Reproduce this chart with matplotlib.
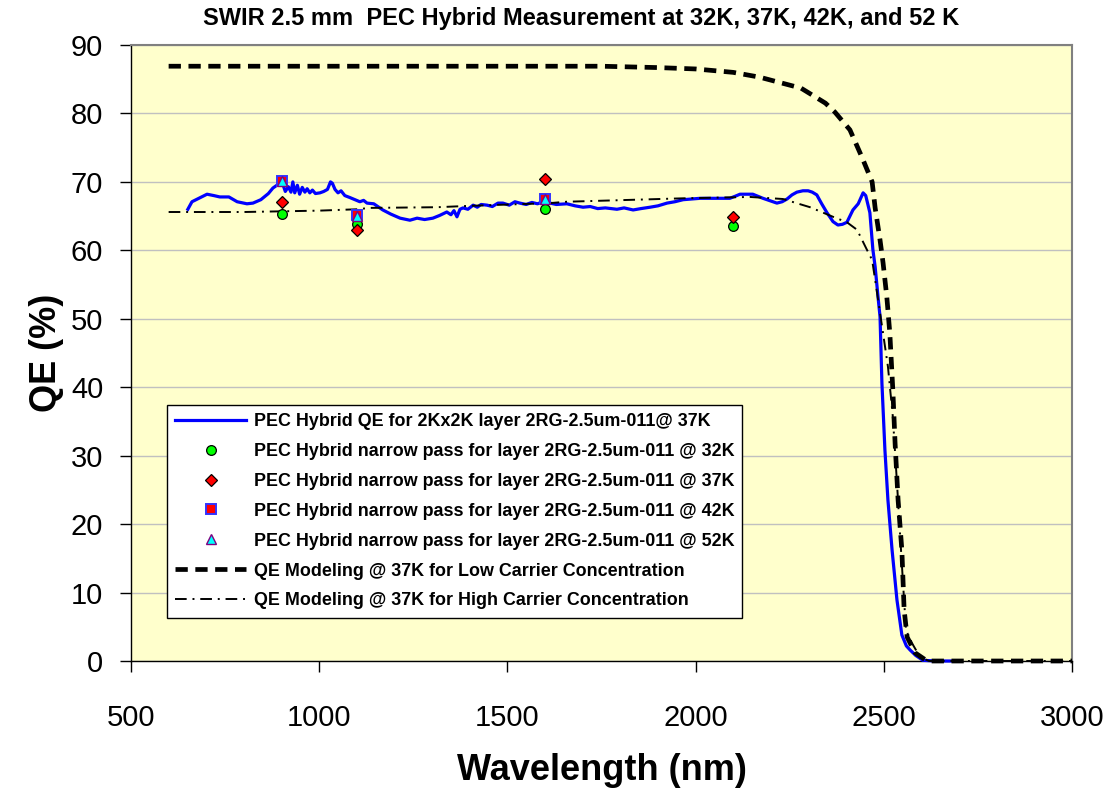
import numpy as np
import matplotlib
matplotlib.use("Agg")
import matplotlib.pyplot as plt

plt.rcParams['font.family'] = ['Liberation Sans', 'DejaVu Sans']

# measured QE curve, 2Kx2K hybrid @ 37K
blue_wl = [
    651, 662, 680, 702, 720, 736, 760, 782, 808, 824,
    845, 865, 877, 890, 898, 905, 910, 918, 925, 930,
    935, 942, 948, 955, 962, 968, 975, 982, 990, 1002,
    1012, 1022, 1030, 1035, 1042, 1050, 1058, 1068, 1082, 1095,
    1108, 1118, 1127, 1145, 1169, 1190, 1215, 1241, 1260, 1280,
    1302, 1320, 1339, 1350, 1358, 1366, 1374, 1382, 1395, 1409,
    1420, 1430, 1446, 1460, 1475, 1488, 1505, 1520, 1533, 1550,
    1565, 1580, 1594, 1613, 1630, 1658, 1680, 1701, 1720, 1740,
    1760, 1791, 1810, 1834, 1855, 1879, 1900, 1924, 1945, 1967,
    1990, 2012, 2050, 2091, 2105, 2118, 2152, 2179, 2200, 2216,
    2230, 2243, 2256, 2269, 2285, 2299, 2310, 2322, 2335, 2349,
    2365, 2378, 2390, 2402, 2418, 2432, 2445, 2452, 2463, 2471,
    2477, 2485, 2490, 2495, 2503, 2511, 2522, 2535, 2548, 2560,
    2570, 2585, 2604, 2640, 2697]
blue_qe = [
    66.0, 67.1, 67.6, 68.2, 68.0, 67.8, 67.8, 67.1, 66.8, 66.9,
    67.4, 68.3, 69.1, 69.6, 70.1, 69.4, 68.6, 69.3, 68.5, 70.0,
    68.4, 69.5, 68.2, 69.2, 68.5, 69.0, 68.4, 68.8, 68.3, 68.4,
    68.6, 68.9, 70.0, 69.8, 68.9, 68.4, 68.7, 68.0, 67.7, 67.4,
    67.1, 67.3, 66.9, 66.8, 65.9, 65.3, 64.7, 64.4, 64.7, 64.5,
    64.7, 65.1, 65.6, 65.2, 65.8, 64.9, 66.0, 66.2, 66.0, 66.6,
    66.3, 66.7, 66.6, 66.4, 66.9, 66.9, 66.6, 67.1, 66.9, 66.7,
    67.0, 66.8, 67.1, 66.9, 66.7, 66.8, 66.5, 66.3, 66.4, 66.1,
    66.2, 66.0, 66.2, 65.9, 66.1, 66.3, 66.5, 66.9, 67.1, 67.4,
    67.5, 67.6, 67.6, 67.6, 67.9, 68.2, 68.2, 67.6, 67.2, 66.9,
    67.1, 67.5, 68.1, 68.5, 68.7, 68.7, 68.5, 68.1, 66.8, 65.5,
    64.2, 63.7, 63.8, 64.1, 65.9, 66.8, 68.4, 68.0, 65.5, 60.1,
    57.6, 53.0, 50.3, 40.6, 30.8, 23.5, 16.2, 8.9, 3.8, 2.2,
    1.6, 0.8, 0.1, 0.0, 0.0]

# narrow pass filter points
np_wl = [900, 1100, 1600, 2100]
qe_32k = [65.3, 63.9, 66.1, 63.5]
qe_37k = [67.1, 63.0, 70.4, 64.8]
np_wl_hot = [900, 1100, 1600]
qe_42k = [70.2, 65.1, 67.5]
qe_52k = [70.2, 65.0, 67.5]

# model, low carrier concentration
low_wl = [600, 1000, 1500, 1750, 1900, 2000, 2100, 2170, 2280, 2345,
          2370, 2410, 2442, 2469, 2477, 2490, 2498, 2508, 2516, 2524,
          2530, 2538, 2548, 2554, 2562, 2583, 2615, 3000]
low_qe = [86.9, 86.9, 86.9, 86.9, 86.7, 86.5, 86.0, 85.3, 83.7, 81.5,
          80.2, 77.6, 73.6, 70.0, 66.2, 61.5, 58.2, 53.2, 47.9, 39.6,
          31.8, 23.5, 16.2, 7.5, 3.5, 1.2, 0.0, 0.0]

# model, high carrier concentration
high_wl = [600, 800, 1000, 1100, 1135, 1313, 1400, 1613, 1658, 1967,
           2144, 2232, 2304, 2365, 2402, 2429, 2455, 2469, 2481, 2498,
           2511, 2524, 2535, 2543, 2551, 2559, 2575, 2596, 2620, 3000]
high_qe = [65.6, 65.6, 65.8, 66.0, 66.2, 66.3, 66.5, 66.9, 67.1, 67.6,
           67.8, 67.5, 66.3, 64.9, 64.1, 63.0, 60.1, 58.6, 54.2, 47.9,
           43.0, 35.7, 26.0, 18.7, 11.4, 4.5, 2.6, 0.6, 0.0, 0.0]

W, H = 1112, 793
fig = plt.figure(figsize=(W / 100, H / 100), dpi=100)
ax = fig.add_axes([131 / W, 1 - 661 / H, 941 / W, 616 / H])
ax.set_facecolor('#FFFFCC')

ax.plot(blue_wl, blue_qe, color='#0000FF', lw=2.3, zorder=3, clip_on=False,
        label='PEC Hybrid QE for 2Kx2K layer 2RG-2.5um-011@ 37K')
ax.plot(np_wl, qe_32k, ls='none', marker='o', ms=7, mfc='#00FF00', mec='black',
        mew=0.9, zorder=6, label='PEC Hybrid narrow pass for layer 2RG-2.5um-011 @ 32K')
ax.plot(np_wl, qe_37k, ls='none', marker='D', ms=6.2, mfc='#FF0000', mec='black',
        mew=0.9, zorder=6, label='PEC Hybrid narrow pass for layer 2RG-2.5um-011 @ 37K')
ax.plot(np_wl_hot, qe_42k, ls='none', marker='s', ms=7, mfc='#FF0000', mec='#3333FF',
        mew=1.4, zorder=6, label='PEC Hybrid narrow pass for layer 2RG-2.5um-011 @ 42K')
ax.plot(np_wl_hot, qe_52k, ls='none', marker='^', ms=6.5, mfc='#00FFFF', mec='#800080',
        mew=1.0, zorder=7, label='PEC Hybrid narrow pass for layer 2RG-2.5um-011 @ 52K')
ax.plot(low_wl, low_qe, color='black', lw=3.4, dashes=(2.6, 1.6), zorder=4, clip_on=False,
        label='QE Modeling @ 37K for Low Carrier Concentration')
ax.plot(high_wl, high_qe, color='black', lw=1.4, dashes=(6, 3, 1, 3), zorder=4, clip_on=False,
        label='QE Modeling @ 37K for High Carrier Concentration')

ax.set_xlim(500, 3000)
ax.set_ylim(0, 90)
ax.set_xticks(np.arange(500, 3001, 500))
ax.set_yticks(np.arange(0, 91, 10))
ax.yaxis.grid(True, color='#C0C0C0', lw=1.0)
ax.set_axisbelow(True)
ax.tick_params(axis='both', direction='out', length=8, width=1, labelsize=21)
ax.tick_params(axis='y', pad=12)
ax.tick_params(axis='x', pad=23)
for s in ['top', 'right']:
    ax.spines[s].set_color('#808080')
    ax.spines[s].set_linewidth(1.5)
for s in ['left', 'bottom']:
    ax.spines[s].set_color('black')
    ax.spines[s].set_linewidth(1.0)

ax.set_xlabel('Wavelength (nm)', fontsize=26, fontweight='bold', labelpad=15)
ax.set_ylabel('QE (%)', fontsize=26, fontweight='bold', labelpad=5)

fig.text(581 / W, 1 - 18 / H,
         'SWIR 2.5 mm  PEC Hybrid Measurement at 32K, 37K, 42K, and 52 K',
         ha='center', va='center', fontsize=17, fontweight='bold')

leg = ax.legend(loc='upper left', bbox_to_anchor=(0.038, 0.4156), borderaxespad=0,
                fancybox=False, framealpha=1, edgecolor='black', numpoints=1,
                handlelength=4.0, handletextpad=0.4, labelspacing=0.72,
                borderpad=0.45, prop={'weight': 'bold', 'size': 12.9})
leg.get_frame().set_linewidth(1.0)

fig.savefig('out.png', dpi=100)
